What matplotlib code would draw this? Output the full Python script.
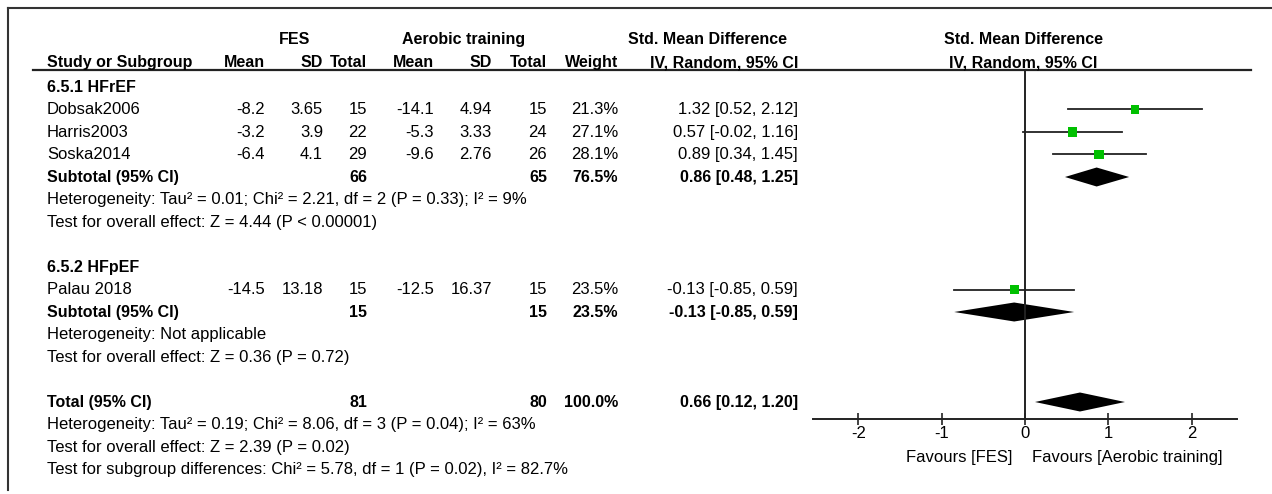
import numpy as np
import matplotlib.pyplot as plt
from matplotlib.transforms import offset_copy

plt.rcParams['font.family'] = ['Liberation Sans', 'DejaVu Sans']
plt.rcParams['axes.unicode_minus'] = False

# study level data
studies = ['Dobsak2006', 'Harris2003', 'Soska2014', 'Palau 2018']
groups = [0, 0, 0, 1]
fes_mean = [-8.2, -3.2, -6.4, -14.5]
fes_sd = [3.65, 3.9, 4.1, 13.18]
fes_n = [15, 22, 29, 15]
aer_mean = [-14.1, -5.3, -9.6, -12.5]
aer_sd = [4.94, 3.33, 2.76, 16.37]
aer_n = [15, 24, 26, 15]
weight = [21.3, 27.1, 28.1, 23.5]
smd = [1.32, 0.57, 0.89, -0.13]
ci_lo = [0.52, -0.02, 0.34, -0.85]
ci_hi = [2.12, 1.16, 1.45, 0.59]

# pooled estimates: subtotal HFrEF, subtotal HFpEF, total
pooled_name = ['Subtotal (95% CI)', 'Subtotal (95% CI)', 'Total (95% CI)']
pooled_fes_n = [66, 15, 81]
pooled_aer_n = [65, 15, 80]
pooled_w = [76.5, 23.5, 100.0]
pooled_est = [0.86, -0.13, 0.66]
pooled_lo = [0.48, -0.85, 0.12]
pooled_hi = [1.25, 0.59, 1.20]

group_names = ['6.5.1 HFrEF', '6.5.2 HFpEF']
group_notes = [
    ['Heterogeneity: Tau² = 0.01; Chi² = 2.21, df = 2 (P = 0.33); I² = 9%',
     'Test for overall effect: Z = 4.44 (P < 0.00001)'],
    ['Heterogeneity: Not applicable',
     'Test for overall effect: Z = 0.36 (P = 0.72)'],
]
total_notes = [
    'Heterogeneity: Tau² = 0.19; Chi² = 8.06, df = 3 (P = 0.04); I² = 63%',
    'Test for overall effect: Z = 2.39 (P = 0.02)',
    'Test for subgroup differences: Chi² = 5.78, df = 1 (P = 0.02), I² = 82.7%',
]
ticks = [-2, -1, 0, 1, 2]
favours = ['Favours [FES]', 'Favours [Aerobic training]']

FS = 12
FSB = 11.5
W, H = 1272, 494
Y0, DY = 87, 22.5          # first row and row spacing, in pixels
AXIS_Y = 419
X0_PX, PX_PER_UNIT = 1025, 83.3

def row_y(i):
    return Y0 + DY * i

# column right edges (pixels)
col_x = [265, 323, 367, 434, 492, 547, 618, 798]
name_x = 47

fig = plt.figure(figsize=(W / 100, H / 100), dpi=100)
base = fig.add_axes([0, 0, 1, 1])
base.set_xlim(0, W)
base.set_ylim(H, 0)
base.axis('off')

# frame
base.plot([8, W], [8, 8], color='#333333', lw=1.5)
base.plot([8, 8], [8, 490], color='#333333', lw=1.5)

# headers
hdr1 = row_y(-2.1)
hdr2 = row_y(-1.07)
bold = dict(fontsize=FSB, fontweight='bold', va='center')
base.text(295, hdr1, 'FES', ha='center', **bold)
base.text(464, hdr1, 'Aerobic training', ha='center', **bold)
base.text(708, hdr1, 'Std. Mean Difference', ha='center', **bold)
base.text(1023, hdr1, 'Std. Mean Difference', ha='center', **bold)
base.text(name_x, hdr2, 'Study or Subgroup', ha='left', **bold)
for x, lab in zip(col_x, ['Mean', 'SD', 'Total', 'Mean', 'SD', 'Total',
                          'Weight', 'IV, Random, 95% CI']):
    base.text(x, hdr2, lab, ha='right', **bold)
base.text(1023, hdr2, 'IV, Random, 95% CI', ha='center', **bold)
base.plot([33, 1251], [70, 70], color='#222222', lw=1.6)

# forest panel shares the pixel y scale
xmin, xmax = -2.55, 2.55
left = (X0_PX + xmin * PX_PER_UNIT) / W
width = (xmax - xmin) * PX_PER_UNIT / W
ax = fig.add_axes([left, 0, width, 1])
ax.set_xlim(xmin, xmax)
ax.set_ylim(H, 0)
ax.patch.set_visible(False)
for s in ['top', 'left', 'right']:
    ax.spines[s].set_visible(False)
ax.spines['bottom'].set_position(('data', AXIS_Y))
ax.spines['bottom'].set_linewidth(1.4)
ax.spines['bottom'].set_color('#222222')
ax.set_yticks([])
ax.set_xticks(ticks)
ax.set_xticklabels([str(t) for t in ticks])
ax.tick_params(axis='x', direction='inout', length=8, width=1.2,
               labelsize=FS, pad=1, color='#222222')
ax.vlines(0, 70, AXIS_Y, color='#222222', lw=1.4)

def diamond(est, lo, hi, y, h=9.5):
    ax.fill([lo, est, hi, est], [y, y - h, y, y + h], color='black', lw=0)

def fmt_ci(e, lo, hi):
    return '%.2f [%.2f, %.2f]' % (e, lo, hi)

normal = dict(fontsize=FS, va='center')
r = 0
for g in range(2):
    base.text(name_x, row_y(r), group_names[g], ha='left', **bold)
    r += 1
    for k in [i for i in range(len(studies)) if groups[i] == g]:
        y = row_y(r)
        vals = [str(fes_mean[k]), str(fes_sd[k]), str(fes_n[k]),
                str(aer_mean[k]), str(aer_sd[k]), str(aer_n[k]),
                '%.1f%%' % weight[k], fmt_ci(smd[k], ci_lo[k], ci_hi[k])]
        base.text(name_x, y, studies[k], ha='left', **normal)
        for x, v in zip(col_x, vals):
            base.text(x, y, v, ha='right', **normal)
        ax.plot([ci_lo[k], ci_hi[k]], [y, y], color='#222222', lw=1.3)
        side = 1.85 * np.sqrt(weight[k]) * 0.72
        ax.scatter([smd[k]], [y], marker='s', s=side ** 2, color='#00c000',
                   edgecolors='none', zorder=3)
        r += 1
    y = row_y(r)
    base.text(name_x, y, pooled_name[g], ha='left', **bold)
    base.text(col_x[2], y, str(pooled_fes_n[g]), ha='right', **bold)
    base.text(col_x[5], y, str(pooled_aer_n[g]), ha='right', **bold)
    base.text(col_x[6], y, '%.1f%%' % pooled_w[g], ha='right', **bold)
    base.text(col_x[7], y, fmt_ci(pooled_est[g], pooled_lo[g], pooled_hi[g]),
              ha='right', **bold)
    diamond(pooled_est[g], pooled_lo[g], pooled_hi[g], y)
    r += 1
    for note in group_notes[g]:
        base.text(name_x, row_y(r), note, ha='left', **normal)
        r += 1
    r += 1

y = row_y(r)
base.text(name_x, y, pooled_name[2], ha='left', **bold)
base.text(col_x[2], y, str(pooled_fes_n[2]), ha='right', **bold)
base.text(col_x[5], y, str(pooled_aer_n[2]), ha='right', **bold)
base.text(col_x[6], y, '%.1f%%' % pooled_w[2], ha='right', **bold)
base.text(col_x[7], y, fmt_ci(pooled_est[2], pooled_lo[2], pooled_hi[2]),
          ha='right', **bold)
diamond(pooled_est[2], pooled_lo[2], pooled_hi[2], y)
r += 1
for note in total_notes:
    base.text(name_x, row_y(r), note, ha='left', **normal)
    r += 1

# favours labels either side of the null line
ax.text(0, 457, favours[0], ha='right', va='center', fontsize=FS,
        transform=offset_copy(ax.transData, fig=fig, x=-13, y=0, units='dots'))
ax.text(0, 457, favours[1], ha='left', va='center', fontsize=FS,
        transform=offset_copy(ax.transData, fig=fig, x=7, y=0, units='dots'))

fig.savefig('out.png', dpi=100)
